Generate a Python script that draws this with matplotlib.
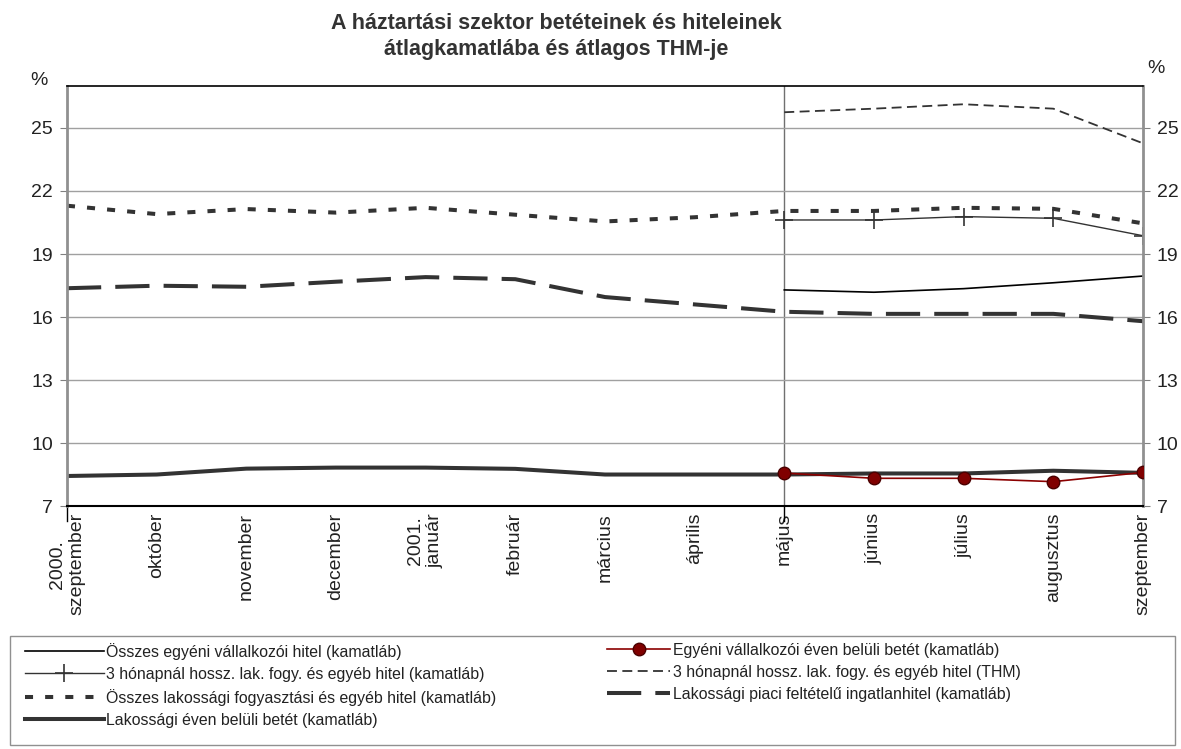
import numpy as np
import matplotlib
matplotlib.use("Agg")
import matplotlib.pyplot as plt
from matplotlib.patches import Rectangle

plt.rcParams['font.family'] = ['Liberation Sans', 'DejaVu Sans']

# Categories (months, 2000 Sept - 2001 Sept)
months = ["2000.\nszeptember", "október", "november", "december", "2001.\njanuár",
          "február", "március", "április", "május", "június", "július",
          "augusztus", "szeptember"]

# Series that start in May 2001 (index 8)
egyeni_hitel = [17.29, 17.18, 17.35, 17.63, 17.95]
egyeni_betet = [8.57, 8.32, 8.32, 8.16, 8.60]
hosszu_kamat = [20.62, 20.62, 20.78, 20.70, 19.87]
hosszu_thm = [25.75, 25.92, 26.13, 25.92, 24.27]

# Full-length series
lak_fogy = [21.30, 20.90, 21.14, 20.97, 21.20, 20.87, 20.55, 20.75, 21.05,
            21.05, 21.20, 21.15, 20.46]
lak_ingatlan = [17.37, 17.49, 17.44, 17.68, 17.90, 17.80, 16.95, 16.60, 16.25,
                16.15, 16.15, 16.15, 15.80]
lak_betet = [8.43, 8.50, 8.78, 8.83, 8.83, 8.77, 8.50, 8.50, 8.50, 8.55, 8.55,
             8.68, 8.58]

x_all = np.arange(len(months))
x_late = x_all[8:]

fig = plt.figure(figsize=(11.81, 7.49), dpi=100)
ax = fig.add_axes([0.0567, 0.3244, 0.9111, 0.5608])

dark = "#333333"
h1, = ax.plot(x_late, egyeni_hitel, color="black", lw=1.2,
              label="Összes egyéni vállalkozói hitel (kamatláb)")
h3, = ax.plot(x_late, hosszu_kamat, color=dark, lw=1.0, marker="+",
              markersize=12.5, markeredgewidth=1.2,
              label="3 hónapnál hossz. lak. fogy. és egyéb hitel (kamatláb)")
h4, = ax.plot(x_late, hosszu_thm, color=dark, lw=1.3, ls=(0, (5.5, 3)),
              label="3 hónapnál hossz. lak. fogy. és egyéb hitel (THM)")
h5, = ax.plot(x_all, lak_fogy, color=dark, lw=2.9, ls=(0, (2, 3)),
              label="Összes lakossági fogyasztási és egyéb hitel (kamatláb)")
h6, = ax.plot(x_all, lak_ingatlan, color=dark, lw=2.9, ls=(0, (8.5, 3.5)),
              label="Lakossági piaci feltételű ingatlanhitel (kamatláb)")
h7, = ax.plot(x_all, lak_betet, color=dark, lw=2.9,
              label="Lakossági éven belüli betét (kamatláb)")
h2, = ax.plot(x_late, egyeni_betet, color="#8b0000", lw=1.2, marker="o",
              markersize=9, markerfacecolor="#800000", markeredgecolor="#4a0000",
              label="Egyéni vállalkozói éven belüli betét (kamatláb)", zorder=5)

ax.axvline(8, color="#707070", lw=1.0, zorder=0)

ax.set_xlim(0, 12)
ax.set_ylim(7, 27)
yticks = [7, 10, 13, 16, 19, 22, 25]
ax.set_yticks(yticks)
ax.yaxis.grid(True, color="#a0a0a0", lw=1.0)
ax.set_axisbelow(True)
ax.tick_params(axis="y", labelsize=14, length=5, color="#808080",
               labelcolor="#222222", pad=5, right=True, labelright=True)
ax.set_xticks(x_all)
ax.set_xticklabels(months, rotation=90, fontsize=14, color="#222222",
                   va="top", ha="center", linespacing=1.2)
ax.tick_params(axis="x", length=0, pad=5)
for xi in [0, 8]:
    ax.plot([xi, xi], [7, 6.3], color="black", lw=1.0, clip_on=False)

ax.spines["left"].set_color("#909090")
ax.spines["left"].set_linewidth(2.0)
ax.spines["right"].set_color("#909090")
ax.spines["right"].set_linewidth(2.0)
ax.spines["top"].set_color("black")
ax.spines["top"].set_linewidth(1.2)
ax.spines["bottom"].set_color("black")
ax.spines["bottom"].set_linewidth(1.5)

fig.text(0.026, 0.886, "%", fontsize=14, color="#222222")
fig.text(0.971, 0.902, "%", fontsize=14, color="#222222")

fig.text(0.471, 0.982, "A háztartási szektor betéteinek és hiteleinek\n"
         "átlagkamatlába és átlagos THM-je", ha="center", va="top",
         fontsize=15.5, fontweight="bold", color="#333333", linespacing=1.3)

# legend frame
fig.patches.append(Rectangle((0.0085, 0.005), 0.9865, 0.1455,
                             transform=fig.transFigure, fill=False,
                             edgecolor="#909090", lw=1.0))

leg_kw = dict(fontsize=11.4, frameon=False,
              handletextpad=0.15, labelspacing=0.45, borderpad=0.0,
              borderaxespad=0.0, labelcolor="#222222")
left = [h1, h3, h5, h7]
right = [h2, h4, h6]
leg1 = fig.legend(left, [h.get_label() for h in left], loc="upper left",
                  bbox_to_anchor=(0.021, 0.142), handlelength=5.0, **leg_kw)
leg2 = fig.legend(right, [h.get_label() for h in right], loc="upper left",
                  bbox_to_anchor=(0.514, 0.142), handlelength=4.0, **leg_kw)

fig.savefig("out.png", dpi=100)
